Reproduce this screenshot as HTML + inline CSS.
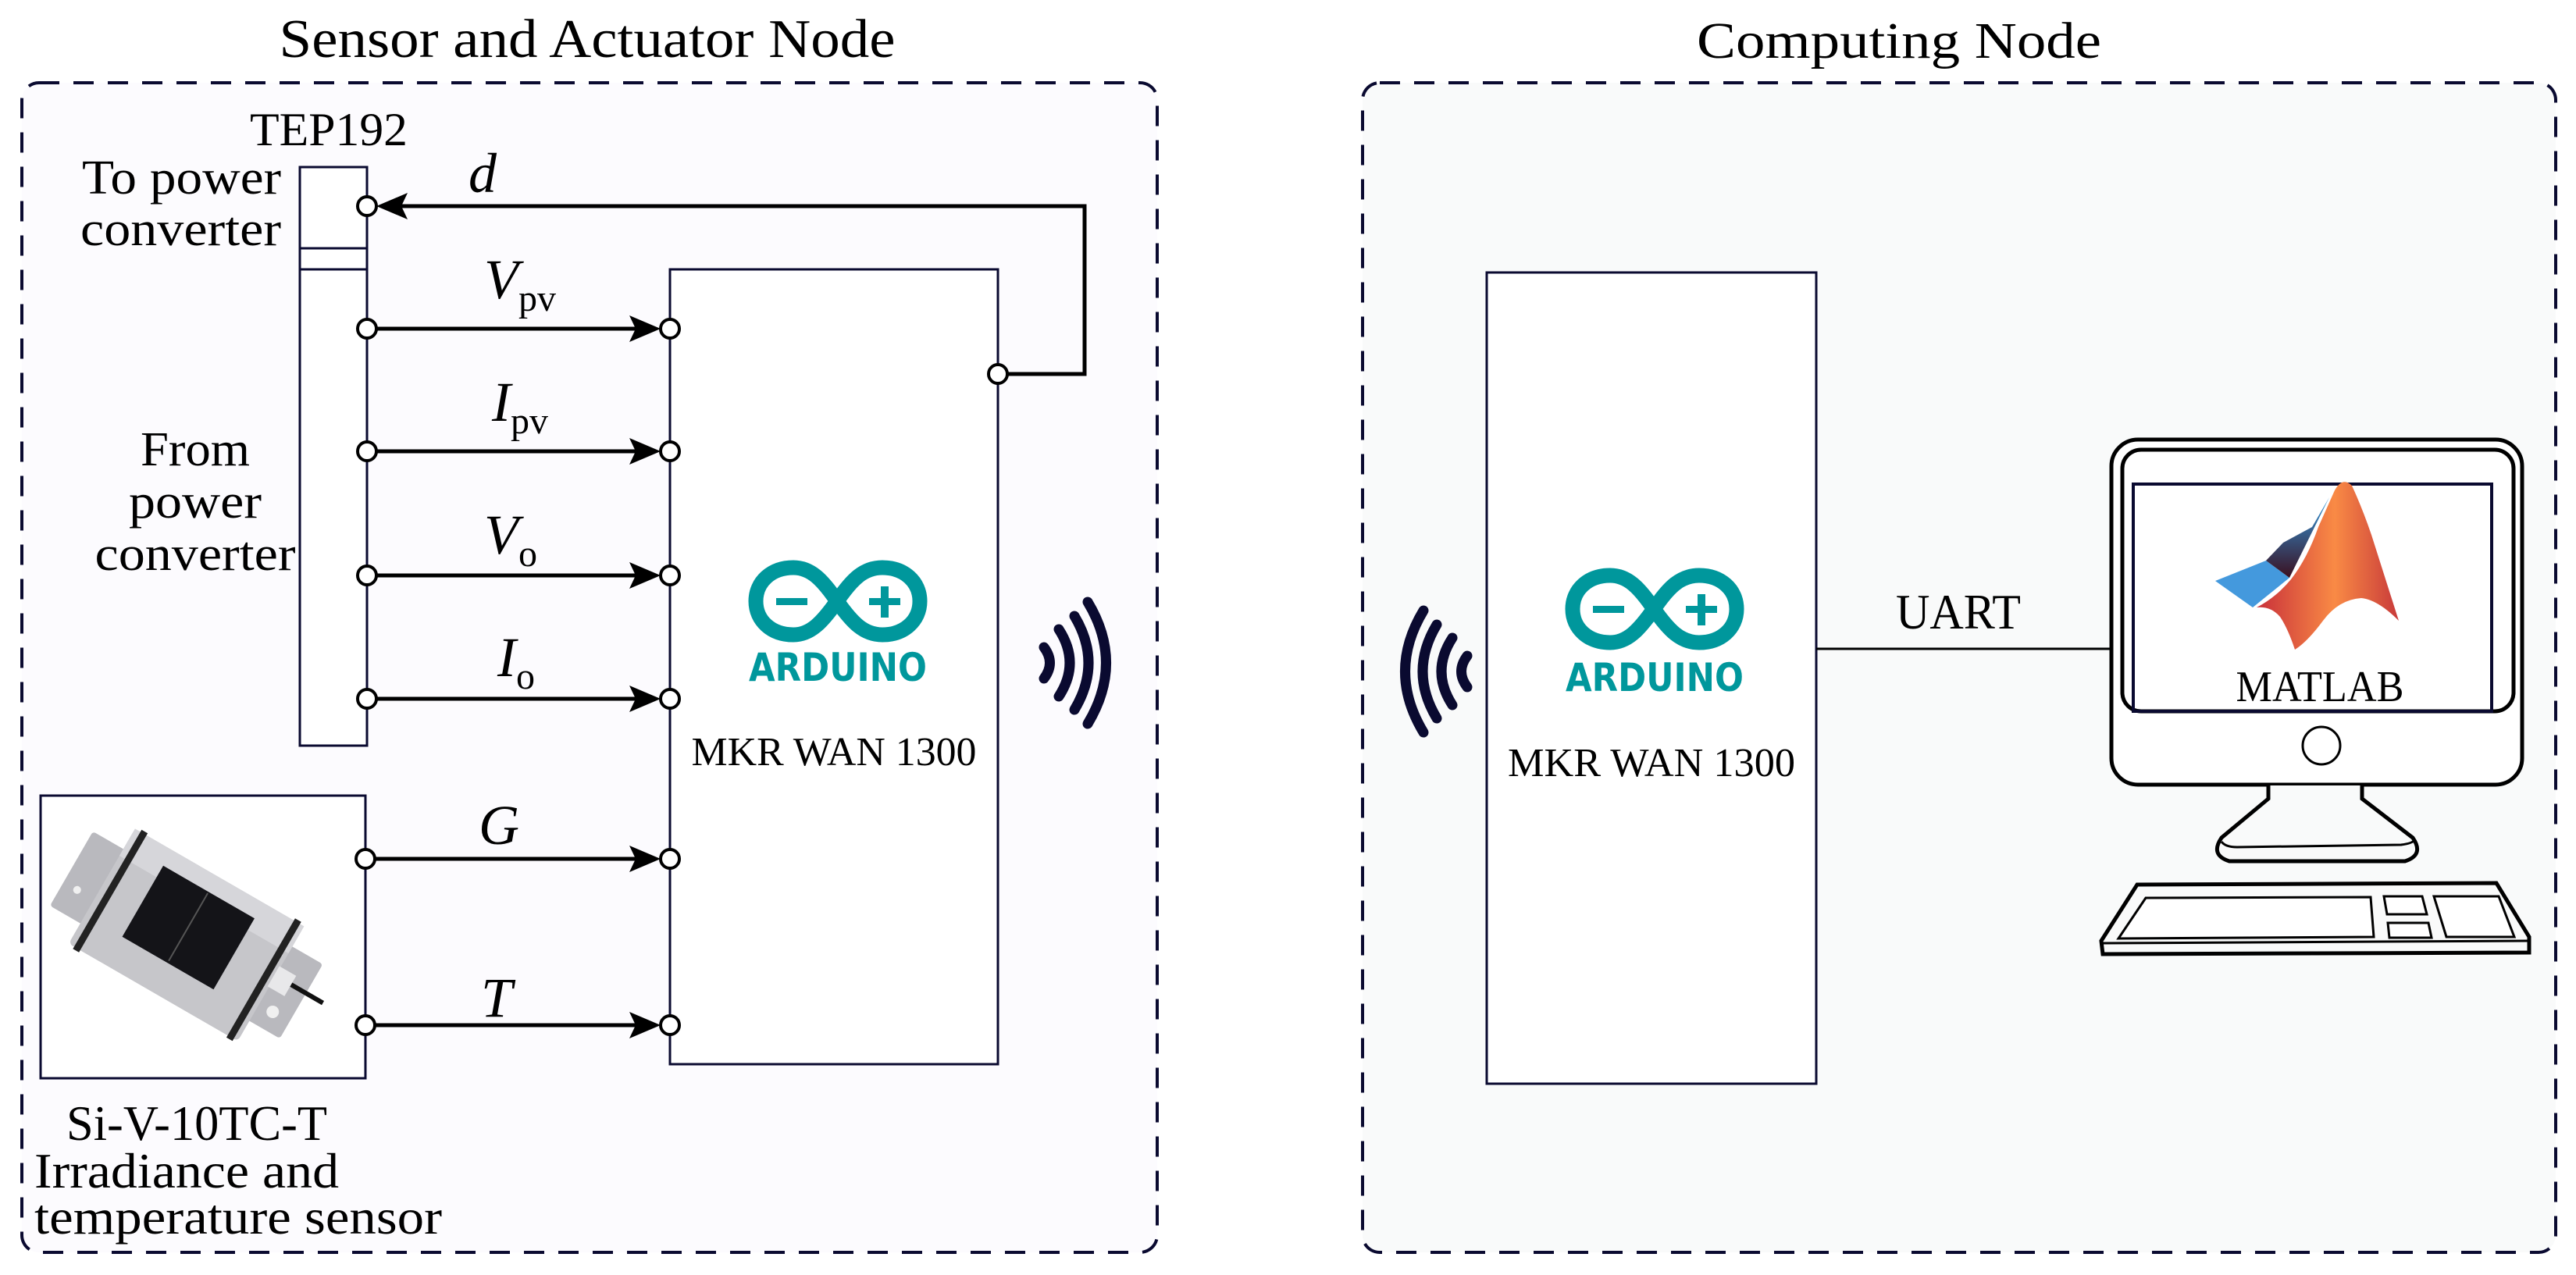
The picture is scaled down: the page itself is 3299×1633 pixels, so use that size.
<!DOCTYPE html>
<html><head><meta charset="utf-8"><style>
html,body{margin:0;padding:0;background:#fff;}
svg{display:block;}
</style></head><body>
<svg width="3299" height="1633" viewBox="0 0 3299 1633" xmlns="http://www.w3.org/2000/svg" style="font-family:'Liberation Serif',serif">
<defs>
<linearGradient id="mg" x1="0" y1="0" x2="1" y2="0">
<stop offset="0" stop-color="#c8303a"/><stop offset="0.55" stop-color="#f98a45"/><stop offset="1" stop-color="#c83a3a"/>
</linearGradient>
<linearGradient id="dg" x1="0" y1="0" x2="0" y2="1">
<stop offset="0" stop-color="#3399dd"/><stop offset="1" stop-color="#3a1020"/>
</linearGradient>
</defs>
<rect x="0" y="0" width="3299" height="1633" fill="#fff"/>

<text x="752" y="73" font-size="70" text-anchor="middle" textLength="789" lengthAdjust="spacingAndGlyphs" style="font-family:'Liberation Serif',serif">Sensor and Actuator Node</text>
<text x="2432" y="74" font-size="66" text-anchor="middle" textLength="518" lengthAdjust="spacingAndGlyphs" style="font-family:'Liberation Serif',serif">Computing Node</text>

<rect x="28" y="106" width="1454" height="1498" rx="22" fill="#fcfbfe" stroke="#0a0a30" stroke-width="4" stroke-dasharray="26,18"/>
<rect x="1745" y="106" width="1528" height="1498" rx="22" fill="#f9fafa" stroke="#0a0a30" stroke-width="4" stroke-dasharray="26,18"/>

<g style="font-family:'Liberation Serif',serif">
<text x="421" y="186" font-size="60" text-anchor="middle" textLength="202" lengthAdjust="spacingAndGlyphs">TEP192</text>
<text x="360" y="248" font-size="62" text-anchor="end" textLength="255" lengthAdjust="spacingAndGlyphs">To power</text>
<text x="360" y="314" font-size="62" text-anchor="end" textLength="257" lengthAdjust="spacingAndGlyphs">converter</text>
<text x="250" y="596" font-size="62" text-anchor="middle" textLength="140" lengthAdjust="spacingAndGlyphs">From</text>
<text x="250" y="663" font-size="62" text-anchor="middle" textLength="170" lengthAdjust="spacingAndGlyphs">power</text>
<text x="250" y="730" font-size="62" text-anchor="middle" textLength="257" lengthAdjust="spacingAndGlyphs">converter</text>
<text x="252" y="1460" font-size="64" text-anchor="middle" textLength="334" lengthAdjust="spacingAndGlyphs">Si-V-10TC-T</text>
<text x="44" y="1521" font-size="64" textLength="390" lengthAdjust="spacingAndGlyphs">Irradiance and</text>
<text x="44" y="1580" font-size="64" textLength="522" lengthAdjust="spacingAndGlyphs">temperature sensor</text>
</g>
<rect x="384" y="214" width="86" height="741" fill="#fff" stroke="#0a0a30" stroke-width="3"/>
<line x1="384" y1="318" x2="470" y2="318" stroke="#0a0a30" stroke-width="3"/>
<line x1="384" y1="345" x2="470" y2="345" stroke="#0a0a30" stroke-width="3"/>

<rect x="858" y="345" width="420" height="1018" fill="#fff" stroke="#0a0a30" stroke-width="3"/>

<rect x="52" y="1019" width="416" height="362" fill="#fff" stroke="#0a0a30" stroke-width="3"/>
<g transform="translate(243,1200) rotate(30)">
<rect x="-175" y="-55" width="340" height="110" fill="#b9b9be" rx="4"/>
<rect x="-130" y="-85" width="250" height="170" fill="#c6c6ca" rx="6"/>
<rect x="-130" y="-85" width="250" height="40" fill="#d6d6da"/>
<rect x="-122" y="-88" width="9" height="176" fill="#222"/>
<rect x="105" y="-88" width="9" height="176" fill="#222"/>
<rect x="-75" y="-62" width="135" height="105" fill="#141418"/>
<line x1="-8" y1="-60" x2="-8" y2="40" stroke="#555" stroke-width="2"/>
<circle cx="140" cy="30" r="8" fill="#f0f0f0"/>
<circle cx="-155" cy="20" r="5" fill="#f0f0f0"/>
<rect x="118" y="-25" width="25" height="30" fill="#e8e8ea"/>
<line x1="143" y1="-12" x2="190" y2="-12" stroke="#111" stroke-width="6"/>
</g>

<g stroke="#000" stroke-width="5" fill="none">
<line x1="470" y1="421" x2="820" y2="421"/>
<line x1="470" y1="578" x2="820" y2="578"/>
<line x1="470" y1="737" x2="820" y2="737"/>
<line x1="470" y1="895" x2="820" y2="895"/>
<line x1="468" y1="1100" x2="820" y2="1100"/>
<line x1="468" y1="1313" x2="820" y2="1313"/>
<polyline points="1278,479 1389,479 1389,264 510,264"/>
</g>
<g fill="#000">
<polygon points="846,421 806,404 814,421 806,438"/>
<polygon points="846,578 806,561 814,578 806,595"/>
<polygon points="846,737 806,720 814,737 806,754"/>
<polygon points="846,895 806,878 814,895 806,912"/>
<polygon points="846,1100 806,1083 814,1100 806,1117"/>
<polygon points="846,1313 806,1296 814,1313 806,1330"/>
<polygon points="482,264 522,247 514,264 522,281"/>
</g>
<g fill="#fff" stroke="#000" stroke-width="4">
<circle cx="470" cy="264" r="12"/>
<circle cx="470" cy="421" r="12"/><circle cx="858" cy="421" r="12"/>
<circle cx="470" cy="578" r="12"/><circle cx="858" cy="578" r="12"/>
<circle cx="470" cy="737" r="12"/><circle cx="858" cy="737" r="12"/>
<circle cx="470" cy="895" r="12"/><circle cx="858" cy="895" r="12"/>
<circle cx="468" cy="1100" r="12"/><circle cx="858" cy="1100" r="12"/>
<circle cx="468" cy="1313" r="12"/><circle cx="858" cy="1313" r="12"/>
<circle cx="1278" cy="479" r="12"/>
</g>

<g transform="translate(958,717)">
<path d="M114,53 C95,25 80,10 58,10 C30,10 10,28 10,53 C10,78 30,96 58,96 C80,96 95,80 114,53 C133,25 148,10 172,10 C200,10 220,28 220,53 C220,78 200,96 172,96 C148,96 133,80 114,53 Z" fill="none" stroke="#00979c" stroke-width="19"/>
<rect x="36" y="49" width="40" height="9" fill="#00979c"/>
<rect x="155" y="49" width="40" height="9" fill="#00979c"/>
<rect x="170" y="34" width="10" height="40" fill="#00979c"/>
<text x="115" y="155" font-size="50" text-anchor="middle" textLength="228" lengthAdjust="spacingAndGlyphs" style="font-family:'DejaVu Sans',sans-serif;font-weight:bold;fill:#00979c">ARDUINO</text>
</g>

<g fill="none" stroke="#0a0a30" stroke-width="13" stroke-linecap="round">
<path d="M1337,829 Q1352,849 1337,869"/>
<path d="M1356,806 Q1384,849 1356,892"/>
<path d="M1376,789 Q1412,849 1376,909"/>
<path d="M1393,771 Q1440,849 1393,927"/>
</g>

<rect x="1904" y="349" width="422" height="1039" fill="#fff" stroke="#0a0a30" stroke-width="3"/>
<g transform="translate(2004,727)">
<path d="M114,53 C95,25 80,10 58,10 C30,10 10,28 10,53 C10,78 30,96 58,96 C80,96 95,80 114,53 C133,25 148,10 172,10 C200,10 220,28 220,53 C220,78 200,96 172,96 C148,96 133,80 114,53 Z" fill="none" stroke="#00979c" stroke-width="19"/>
<rect x="36" y="49" width="40" height="9" fill="#00979c"/>
<rect x="155" y="49" width="40" height="9" fill="#00979c"/>
<rect x="170" y="34" width="10" height="40" fill="#00979c"/>
<text x="115" y="158" font-size="50" text-anchor="middle" textLength="228" lengthAdjust="spacingAndGlyphs" style="font-family:'DejaVu Sans',sans-serif;font-weight:bold;fill:#00979c">ARDUINO</text>
</g>

<g fill="none" stroke="#0a0a30" stroke-width="13" stroke-linecap="round">
<path d="M1879,840 Q1864,860 1879,880"/>
<path d="M1860,817 Q1832,860 1860,903"/>
<path d="M1840,800 Q1804,860 1840,920"/>
<path d="M1823,782 Q1776,860 1823,938"/>
</g>

<line x1="2326" y1="831" x2="2704" y2="831" stroke="#000" stroke-width="3"/>

<g fill="none" stroke="#000" stroke-width="5">
<rect x="2704" y="563" width="526" height="442" rx="34" fill="#fff"/>
<rect x="2718" y="576" width="501" height="335" rx="24"/>
<rect x="2732" y="620" width="459" height="291" stroke="#0a0a30" stroke-width="4"/>
<circle cx="2973" cy="955" r="24" stroke-width="3"/>
<path d="M2905,1006 L2905,1023 L2845,1073 Q2830,1095 2855,1103 L3080,1103 Q3105,1095 3090,1073 L3025,1023 L3025,1006" fill="#f9fafa"/>
<path d="M2845,1078 Q2850,1085 2865,1085 L3075,1082 Q3090,1080 3092,1076" stroke-width="3"/>
<path d="M2737,1133 L3197,1131 L3239,1200 L3239,1220 L2693,1222 L2691,1205 Z" fill="#f9fafa"/>
<path d="M2693,1208 L3239,1205" stroke-width="3"/>
<polygon points="2748,1150 3036,1149 3040,1200 2713,1202" stroke-width="3" fill="#fff"/>
<polygon points="3053,1148 3102,1148 3108,1171 3057,1171" stroke-width="3" fill="#fff"/>
<polygon points="3058,1182 3110,1182 3114,1201 3060,1201" stroke-width="3" fill="#fff"/>
<polygon points="3117,1148 3200,1148 3220,1200 3133,1200" stroke-width="3" fill="#fff"/>
</g>
<polygon points="2837,744 2902,718 2932,740 2885,778" fill="#4499dd"/>
<polygon points="2902,718 2924,695 2961,675 2983,637 2932,740" fill="url(#dg)"/>
<path d="M2890,778 Q2915,765 2934,742 Q2955,715 2969,675 L2990,628 Q3000,610 3012,622 Q3025,650 3037,685 L3072,795 Q3045,768 3024,766 Q2995,768 2975,795 Q2955,822 2939,832 Q2930,805 2920,790 Q2908,776 2890,778 Z" fill="url(#mg)"/>

<g style="font-family:'Liberation Serif',serif">
<text x="600" y="246" font-size="72" font-style="italic">d</text>
<text x="620" y="382" font-size="72" font-style="italic">V<tspan font-size="48" font-style="normal" dy="16">pv</tspan></text>
<text x="630" y="539" font-size="72" font-style="italic">I<tspan font-size="48" font-style="normal" dy="16">pv</tspan></text>
<text x="620" y="709" font-size="72" font-style="italic">V<tspan font-size="48" font-style="normal" dy="16">o</tspan></text>
<text x="637" y="866" font-size="72" font-style="italic">I<tspan font-size="48" font-style="normal" dy="16">o</tspan></text>
<text x="613" y="1081" font-size="72" font-style="italic">G</text>
<text x="616" y="1302" font-size="72" font-style="italic">T</text>
<text x="1068" y="980" font-size="52" text-anchor="middle" textLength="365" lengthAdjust="spacingAndGlyphs">MKR WAN 1300</text>
<text x="2115" y="994" font-size="52" text-anchor="middle" textLength="368" lengthAdjust="spacingAndGlyphs">MKR WAN 1300</text>
<text x="2508" y="805" font-size="64" text-anchor="middle" textLength="160" lengthAdjust="spacingAndGlyphs">UART</text>
<text x="2971" y="898" font-size="56" text-anchor="middle" textLength="215" lengthAdjust="spacingAndGlyphs">MATLAB</text>
</g>
</svg>
</body></html>
